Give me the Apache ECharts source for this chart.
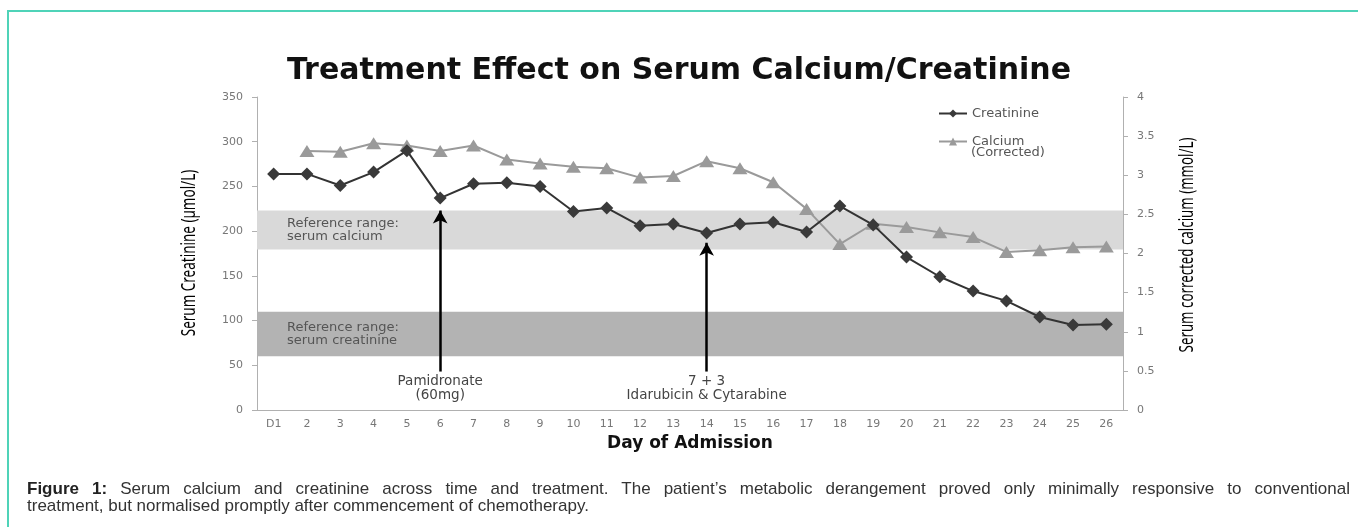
<!DOCTYPE html>
<html>
<head>
<meta charset="utf-8">
<script src="https://cdn.jsdelivr.net/npm/echarts@6/dist/echarts.min.js"></script>
<style>
  html, body { margin: 0; padding: 0; background: #fff; }
  #frame { position: absolute; left: 7px; top: 10px; width: 1351px; height: 517px;
           border-top: 2px solid #4fd3b8; border-left: 2px solid #4fd3b8; }
  #chart { position: absolute; left: 0; top: 0; width: 1358px; height: 527px; }
  #caption { position: absolute; left: 27px; top: 480px; width: 1323px;
             font-family: "Liberation Sans", Arial, sans-serif; font-size: 17px;
             line-height: 17px; color: #333; }
  #caption .l1 { text-align: justify; text-align-last: justify; }
  #caption b { color: #222; }
</style>
</head>
<body>
<div id="frame"></div>
<div id="chart"></div>
<div id="caption">
  <div class="l1"><b>Figure 1:</b> Serum calcium and creatinine across time and treatment. The patient’s metabolic derangement proved only minimally responsive to conventional</div>
  <div>treatment, but normalised promptly after commencement of chemotherapy.</div>
</div>
<script>
// 数据
var days = ['D1', '2', '3', '4', '5', '6', '7', '8', '9', '10', '11', '12', '13',
            '14', '15', '16', '17', '18', '19', '20', '21', '22', '23', '24', '25', '26'];
var creatinine = [264, 264, 251, 266, 290, 237, 253, 254, 250, 222, 226, 206, 208,
                  198, 208, 210, 199, 228, 207, 171, 149, 133, 122, 104, 95, 96];
var calcium = [null, 3.31, 3.30, 3.41, 3.38, 3.31, 3.38, 3.20, 3.15, 3.11, 3.09, 2.97, 2.99,
               3.18, 3.09, 2.91, 2.57, 2.12, 2.38, 2.34, 2.27, 2.21, 2.02, 2.04, 2.08, 2.09];
var creatinineRange = [60, 110];
var calciumRange = [2.05, 2.55];

var chart = echarts.init(document.getElementById('chart'));

var tickFont = 'DejaVu Sans';

var option = {
    animation: false,
    title: {
        text: 'Treatment Effect on Serum Calcium/Creatinine',
        left: 'center',
        top: 51,
        textStyle: { fontFamily: 'DejaVu Sans', fontWeight: 'bold', fontSize: 30, color: '#111' }
    },
    legend: {
        orient: 'vertical',
        left: 938,
        top: 107,
        padding: 0,
        itemWidth: 28,
        itemHeight: 10,
        itemGap: 15,
        textStyle: { fontFamily: tickFont, fontSize: 13, color: '#555' },
        data: ['Creatinine', 'Calcium']
    },
    graphic: [{
        type: 'text',
        x: 971, y: 153,
        style: { text: '(Corrected)', font: '13px "DejaVu Sans"', fill: '#555', verticalAlign: 'middle' }
    }, {
        // 左轴标题（压窄）
        type: 'text',
        x: 190, y: 253,
        rotation: Math.PI / 2,
        scaleX: 0.71,
        style: { text: 'Serum Creatinine (µmol/L)', font: '19px "Noto Sans"', fill: '#000',
                 align: 'center', verticalAlign: 'middle' }
    }, {
        type: 'text',
        x: 1188, y: 245,
        rotation: Math.PI / 2,
        scaleX: 0.70,
        style: { text: 'Serum corrected calcium (mmol/L)', font: '19px "Noto Sans"', fill: '#000',
                 align: 'center', verticalAlign: 'middle' }
    }],
    grid: { left: 257, right: 235, top: 97, bottom: 117 },
    xAxis: {
        type: 'category',
        data: days,
        name: 'Day of Admission',
        nameLocation: 'middle',
        nameGap: 23,
        nameTextStyle: { fontFamily: 'DejaVu Sans', fontWeight: 'bold', fontSize: 17, color: '#111' },
        axisLine: { lineStyle: { color: '#b0b0b0' } },
        axisTick: { lineStyle: { color: '#b0b0b0' } },
        axisLabel: { fontFamily: tickFont, fontSize: 11, color: '#777', margin: 9 }
    },
    yAxis: [{
        type: 'value',
        min: 0,
        max: 350,
        interval: 50,
        splitLine: { show: false },
        axisLine: { show: true, lineStyle: { color: '#b0b0b0' } },
        axisTick: { show: true, lineStyle: { color: '#b0b0b0' } },
        axisLabel: { fontFamily: tickFont, fontSize: 11, color: '#777', margin: 14 }
    }, {
        type: 'value',
        min: 0,
        max: 4,
        interval: 0.5,
        splitLine: { show: false },
        axisLine: { show: true, lineStyle: { color: '#b0b0b0' } },
        axisTick: { show: true, lineStyle: { color: '#b0b0b0' } },
        axisLabel: { fontFamily: tickFont, fontSize: 11, color: '#777', margin: 14 }
    }],
    series: [{
        name: 'Calcium',
        type: 'line',
        yAxisIndex: 1,
        data: calcium,
        symbol: 'triangle',
        symbolSize: [15, 12],
        z: 3,
        lineStyle: { color: '#9a9a9a', width: 2 },
        itemStyle: { color: '#9a9a9a' },
        markArea: {
            silent: true,
            itemStyle: { color: '#d9d9d9' },
            label: {
                show: true, position: 'insideLeft', distance: 30,
                padding: [4, 0, 0, 0],
                fontFamily: tickFont, fontSize: 13, color: '#555', lineHeight: 13
            },
            data: [[{ name: 'Reference range:\nserum calcium', yAxis: calciumRange[0] },
                    { yAxis: calciumRange[1] }]]
        }
    }, {
        name: 'Creatinine',
        type: 'line',
        yAxisIndex: 0,
        data: creatinine,
        symbol: 'diamond',
        symbolSize: [13, 13],
        z: 4,
        lineStyle: { color: '#333', width: 2 },
        itemStyle: { color: '#3a3a3a' },
        markArea: {
            silent: true,
            itemStyle: { color: '#b3b3b3' },
            label: {
                show: true, position: 'insideLeft', distance: 30,
                fontFamily: tickFont, fontSize: 13, color: '#555', lineHeight: 13
            },
            data: [[{ name: 'Reference range:\nserum creatinine', yAxis: creatinineRange[0] },
                    { yAxis: creatinineRange[1] }]]
        },
        markLine: {
            silent: true,
            symbol: ['none', 'arrow'],
            symbolSize: [11, 13],
            label: { show: false },
            lineStyle: { color: '#000', width: 2.5, type: 'solid' },
            data: [
                [{ coord: ['6', 43] }, { coord: ['6', 223] }],
                [{ coord: ['14', 43] }, { coord: ['14', 187] }]
            ]
        },
        markPoint: {
            silent: true,
            symbol: 'circle',
            symbolSize: 0,
            label: {
                show: true, position: 'inside',
                fontFamily: tickFont, fontSize: 13.5, color: '#444', lineHeight: 14
            },
            data: [
                { coord: ['6', 24], value: 'Pamidronate\n(60mg)' },
                { coord: ['14', 24], value: '7 + 3\nIdarubicin & Cytarabine' }
            ]
        }
    }]
};
chart.setOption(option);
</script>
</body>
</html>
